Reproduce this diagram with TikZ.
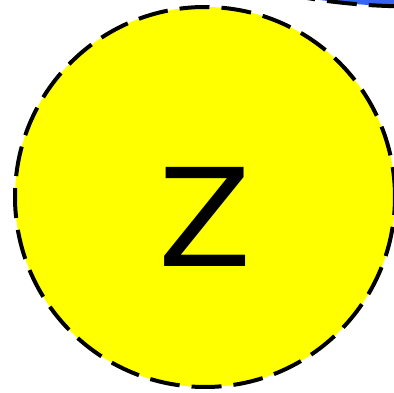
\documentclass[tikz,border=0pt]{standalone}
\usepackage{fontspec}
\setmainfont{DejaVu Sans}
\usetikzlibrary{shapes.geometric}
\definecolor{bluefill}{RGB}{55,100,240}
\definecolor{yellowfill}{RGB}{255,255,0}
\tikzset{
  dashedborder/.style={draw=black, line width=4pt, dash pattern=on 30pt off 12pt},
}
\begin{document}
\begin{tikzpicture}[x=1pt,y=1pt]
\useasboundingbox (0,0) rectangle (394,-393);
\node[ellipse, dashedborder, fill=bluefill, minimum width=600pt, minimum height=260pt, inner sep=0pt] (b) at (414,123.5) {};
\node[circle, dashedborder, fill=yellowfill, minimum size=380pt, inner sep=0pt] (z) at (205,-197) {};
\node[anchor=base, inner sep=0pt, font=\fontsize{136}{136}\selectfont] (zl) at (205,-266.7) {Z};
\end{tikzpicture}
\end{document}
